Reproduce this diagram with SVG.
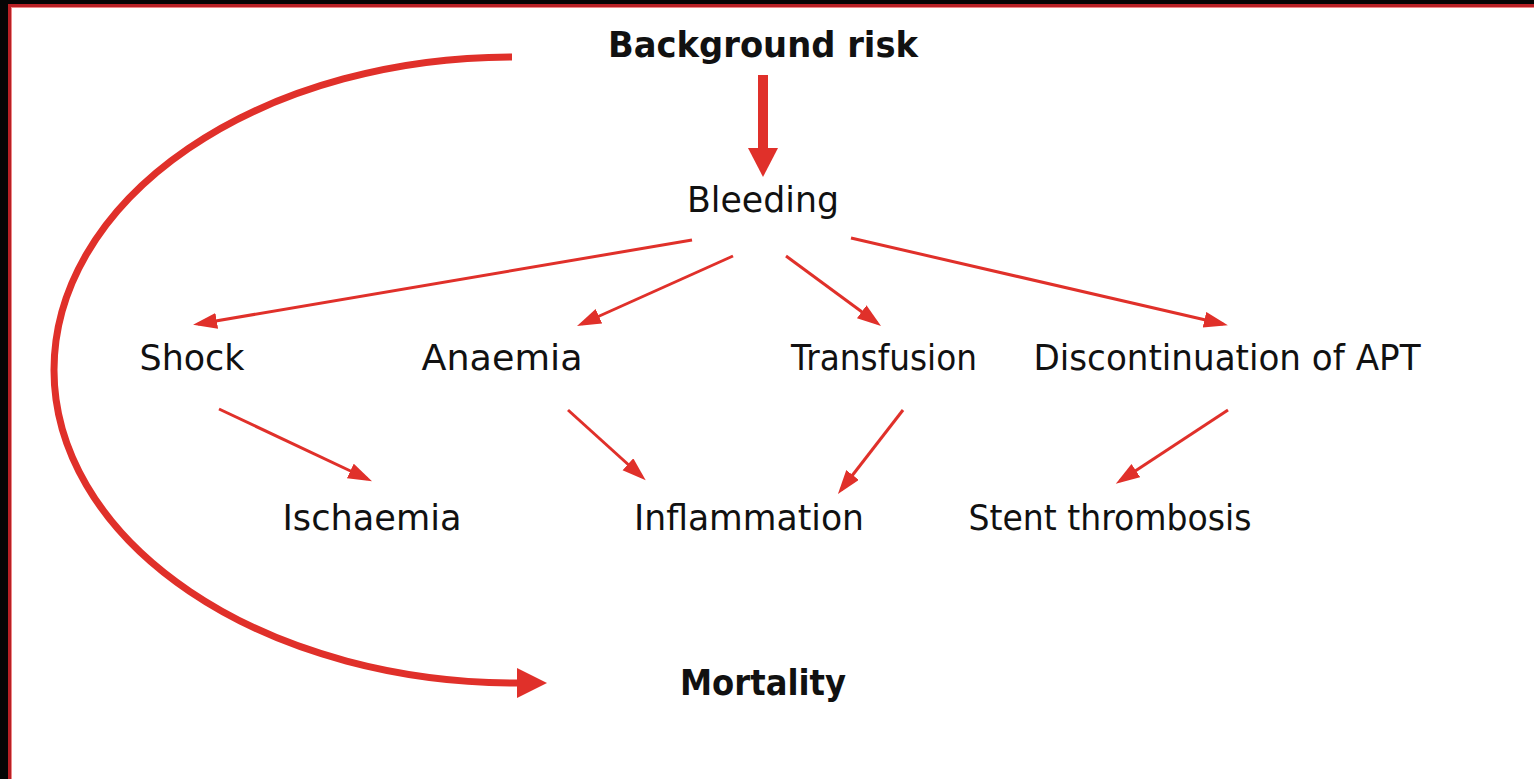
<svg xmlns="http://www.w3.org/2000/svg" width="1534" height="779" viewBox="0 0 1534 779">
<style>
.t{font-family:"DejaVu Sans","Liberation Sans",sans-serif;font-size:35px;fill:#111;text-anchor:middle}
.b{font-weight:bold}
.ln{stroke:#E0302A;stroke-width:3;fill:none}
</style>
<defs>
<marker id="ah" markerUnits="userSpaceOnUse" markerWidth="26" markerHeight="18" refX="19" refY="8" orient="auto">
<path d="M0,0 L24,8 L0,16 z" fill="#E0302A"/>
</marker>
</defs>
<rect x="0" y="0" width="1534" height="779" fill="#050505"/>
<rect x="8" y="4" width="1540" height="790" fill="#B82025"/>
<rect x="11" y="7" width="1540" height="790" fill="#E88"/>
<rect x="12" y="8" width="1540" height="790" fill="#fff"/>
<g id="connectors">
<path d="M512,57 A458,313 0 0 0 54,370 A463,313 0 0 0 517,683" fill="none" stroke="#E0302A" stroke-width="7"/>
<polygon points="517,668 547,683 517,698" fill="#E0302A"/>
<rect x="758" y="75" width="10" height="75" fill="#E0302A"/>
<polygon points="748,148 778,148 763,177" fill="#E0302A"/>
<line class="ln" x1="692" y1="240" x2="198" y2="324" marker-end="url(#ah)"/>
<line class="ln" x1="733" y1="256" x2="581.6" y2="324" marker-end="url(#ah)"/>
<line class="ln" x1="786" y1="256" x2="877" y2="323" marker-end="url(#ah)"/>
<line class="ln" x1="851" y1="238" x2="1223" y2="324" marker-end="url(#ah)"/>
<line class="ln" x1="219" y1="409" x2="367.5" y2="479" marker-end="url(#ah)"/>
<line class="ln" x1="568" y1="410" x2="642" y2="477" marker-end="url(#ah)"/>
<line class="ln" x1="903" y1="410" x2="841" y2="490" marker-end="url(#ah)"/>
<line class="ln" x1="1228" y1="410" x2="1120" y2="481" marker-end="url(#ah)"/>
</g>
<g id="background-risk"><text class="t b" x="763" y="57" textLength="310" lengthAdjust="spacingAndGlyphs">Background risk</text></g>
<g id="bleeding"><text class="t" x="763" y="212" textLength="152" lengthAdjust="spacingAndGlyphs">Bleeding</text></g>
<g id="shock"><text class="t" x="192" y="370" textLength="105" lengthAdjust="spacingAndGlyphs">Shock</text></g>
<g id="anaemia"><text class="t" x="502" y="370" textLength="161" lengthAdjust="spacingAndGlyphs">Anaemia</text></g>
<g id="transfusion"><text class="t" x="884" y="370" textLength="186" lengthAdjust="spacingAndGlyphs">Transfusion</text></g>
<g id="discontinuation"><text class="t" x="1227" y="370" textLength="387" lengthAdjust="spacingAndGlyphs">Discontinuation of APT</text></g>
<g id="ischaemia"><text class="t" x="372" y="530" textLength="179" lengthAdjust="spacingAndGlyphs">Ischaemia</text></g>
<g id="inflammation"><text class="t" x="749" y="530" textLength="230" lengthAdjust="spacingAndGlyphs">Inflammation</text></g>
<g id="stent-thrombosis"><text class="t" x="1110" y="530" textLength="283" lengthAdjust="spacingAndGlyphs">Stent thrombosis</text></g>
<g id="mortality"><text class="t b" x="763" y="695" textLength="166" lengthAdjust="spacingAndGlyphs">Mortality</text></g>
</svg>
